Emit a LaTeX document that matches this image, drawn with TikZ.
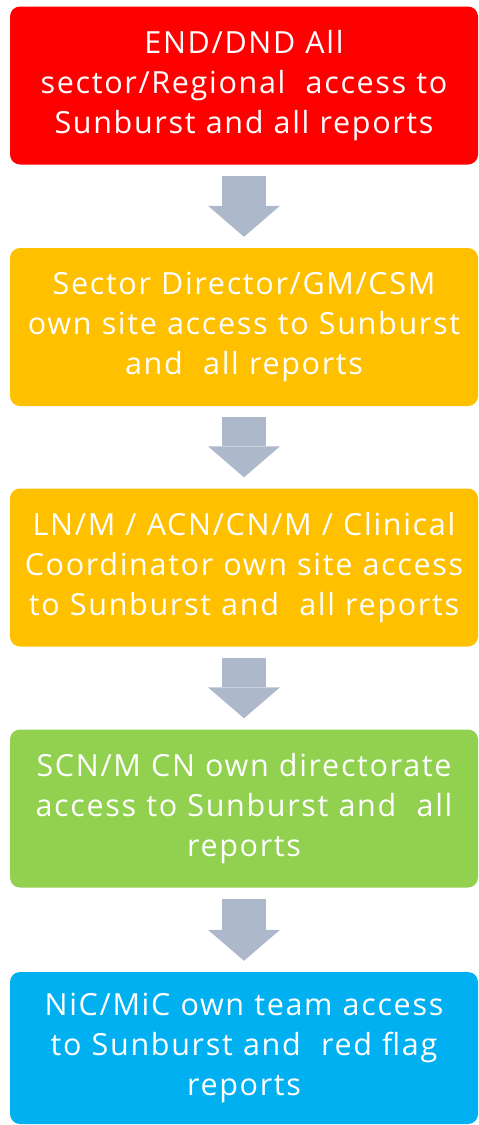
\documentclass[tikz,border=0pt]{standalone}
\usepackage{fontspec}
\setmainfont{Open Sans}[LetterSpace=5.5]
\usetikzlibrary{arrows.meta}
\definecolor{levelred}{HTML}{FF0000}
\definecolor{levelorange}{HTML}{FFC000}
\definecolor{levelgreen}{HTML}{92D050}
\definecolor{levelblue}{HTML}{00B0F0}
\definecolor{flowgrey}{HTML}{ADB9CA}

\begin{document}
\begin{tikzpicture}[x=1pt,y=1pt,
	level/.style={rounded corners=10pt, minimum width=468pt, minimum height=158pt,
		text width=468pt, align=center, inner sep=0pt, text=white,
		font=\fontsize{30.5}{40}\selectfont},
	flow/.style={draw=flowgrey, line width=44pt, shorten <=11pt, shorten >=11pt,
		-{Triangle[width=72pt,length=31pt,line width=0pt,fill=flowgrey]}}]
		\useasboundingbox (0,0) rectangle (479,-1125);
		
		\node[level, fill=levelred] (end) at (244, -85.5) {END/DND All\\sector/Regional\ \ access to\\Sunburst and all reports};
		\node[level, fill=levelorange] (sector) at (244, -327) {Sector Director/GM/CSM\\own site access to Sunburst\\and\ \ all reports};
		\node[level, fill=levelorange] (ln) at (244, -567.5) {LN/M / ACN/CN/M / Clinical\\Coordinator own site access\\to Sunburst and\ \ all reports};
		\node[level, fill=levelgreen] (scn) at (244, -808.5) {SCN/M CN own directorate\\access to Sunburst and\ \ all\\reports};
		\node[level, fill=levelblue, minimum height=152pt] (nic) at (244, -1048) {NiC/MiC own team access\\to Sunburst and\ \ red flag\\reports};
		
		\draw[flow] (end) -- (sector);
		\draw[flow] (sector) -- (ln);
		\draw[flow] (ln) -- (scn);
		\draw[flow] (scn) -- (nic);
		\end{tikzpicture}
\end{document}
